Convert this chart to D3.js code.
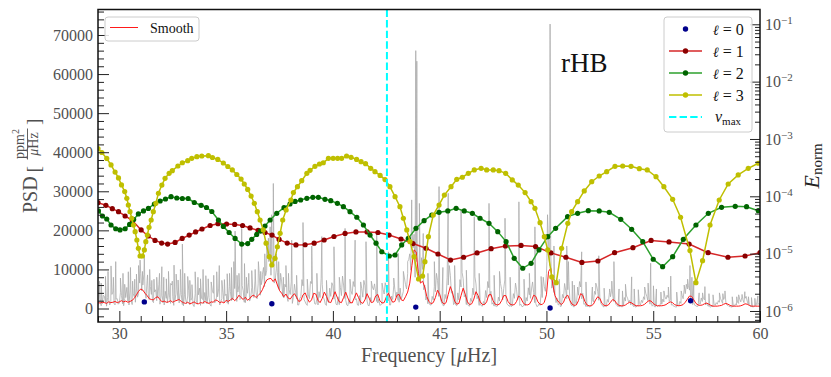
<!DOCTYPE html>
<html><head><meta charset="utf-8">
<script src="https://cdn.jsdelivr.net/npm/d3@7"></script>
<style>
body{margin:0;background:#fff;}
svg text{font-family:"Liberation Serif","Times New Roman",serif;}
</style>
</head><body>
<svg id="c" width="831" height="377"></svg>
<script>
// ---------------- DATA ----------------
const freqStart = 29.0, freqStep = 0.05;
const psdBand = [
800,1900,2600,700,1200,3400,3100,1500,600,2800,2200,900,1700,3600,4200,1300,900,2400,2500,1100,
1400,4100,3300,1200,700,2500,2800,5400,1900,900,4500,2300,1000,3800,3000,1600,5200,2900,3800,6500,
9000,4500,6000,8800,4400,2600,7200,3900,2300,5600,3600,1800,1500,4200,4800,2000,2700,6100,1100,3000,
3400,1500,900,4400,2600,1400,4000,2900,1300,6000,3000,800,2100,3700,5000,2200,1400,4100,3600,1000,
700,3500,2400,1200,3200,4600,1000,2100,2700,900,500,3800,1900,1100,3500,5200,800,2600,2300,1200,
4100,2000,1200,3400,2800,900,600,4700,3900,1500,1600,2900,3000,5000,900,1800,2500,4100,1700,3300,
3700,1400,1100,5600,4300,2000,2200,3100,5100,7000,1800,4200,6000,2300,2600,5900,4500,1600,1500,3800,
3900,6600,1900,2700,5400,3900,2800,7000,4200,2500,6300,8900,3400,6100,7800,10500,5600,8400,9800,13500,
12000,16000,8500,13000,11000,6500,7400,10200,9300,5200,4600,7900,6800,3100,2700,6200,5500,3000,1800,4800,
3600,6800,1300,2900,6200,4100,2400,900,900,2600,3000,7400,5800,2300,1700,1100,800,3500,2500,6900,
6400,3600,3000,1200,1100,2500,900,4300,2800,7700,6200,2900,2200,1000,800,1900,1500,5200,3100,6600,
5800,2400,2600,1100,900,3000,1000,5400,3300,8300,6000,2600,2100,900,700,2300,1200,4500,3600,6900,
5600,2200,2500,900,800,3300,900,5100,2900,7200,5900,2500,1900,800,700,2800,1800,5500,4800,6300,
4300,1800,1400,2400,800,1000,1200,4900,3700,6600,5400,2300,2000,900,900,3200,2300,5800,4900,3000,
4200,2100,1600,5200,2400,3300,4400,7800,6100,5000,9000,12500,14000,9800,21000,15500,19000,8000,12000,15500,
9500,7200,6800,13000,10000,4800,6000,2200,2900,1200,1500,900,900,3100,2200,5600,4300,9000,7200,3100,
4000,2100,1300,800,700,3600,2500,7900,6000,11000,8500,3900,4400,1000,1400,900,700,4000,2200,7400,
5500,9200,7600,3000,3600,1000,1200,700,600,2600,1800,5200,3500,8100,6300,2500,3200,800,1100,700,
600,1800,1000,4600,2800,6900,5300,3100,4400,1100,1500,600,700,500,600,2900,1900,6400,4900,2200,
5100,7300,2800,1200,900,600,600,500,700,3800,2600,6500,4800,2200,3700,800,1100,500,500,900,
700,2800,1900,5300,3500,2600,5000,6800,4100,1500,1300,500,600,1200,800,3900,2800,8000,5600,4400,
9000,24000,16000,11000,14500,5200,7200,4100,3300,1500,2600,900,1100,500,600,3600,2700,6400,4700,2500,
4800,7000,2000,900,700,500,400,1600,1100,4200,3400,6900,5500,2500,3900,1100,1200,500,500,700,
400,500,800,2300,1700,4400,3600,5800,4400,2100,2900,1300,900,500,400,700,500,2300,1600,4100,
3000,4700,3500,1800,2200,1100,800,500,400,600,500,400,700,2800,1900,3200,2600,1600,2100,900,
1300,700,500,400,400,800,600,1200,900,2100,1500,3000,2300,3900,3100,2000,2700,1100,1600,600,
900,500,400,700,500,800,600,1500,1100,2400,1700,3000,2400,3400,2800,1800,2200,900,1000,600,
500,400,400,900,700,1800,1300,3400,2500,4900,3800,6200,5000,5800,4700,2600,3100,1000,1500,800,
700,500,600,1500,1100,2700,1800,2600,2200,900,1400,700,600,400,400,600,500,1100,800,1500,
1100,2000,1600,2600,1900,1300,2300,2900,1600,900,800,500,500,400,400,700,600,1200,900,1600,
1300,2400,1700,2900,2200,1500,2600,3100,1900,1100,900,500,500,400,400,800,700,1400,1000,1300,
800];
// tall individual peaks of the spectrum
const spikeFreq = [29.15,29.35,29.61,29.83,30.05,30.25,30.42,30.62,30.80,30.97,
31.08,31.17,31.32,31.52,31.75,31.99,32.20,32.40,32.56,32.75,
32.95,33.20,33.40,33.55,33.80,34.05,34.30,34.56,34.80,35.05,
35.25,35.42,35.60,35.73,35.95,36.20,36.51,36.70,36.90,37.06,
37.21,37.35,37.55,37.80,38.07,38.30,38.60,38.80,39.01,39.25,
39.48,39.70,40.05,40.30,40.57,40.80,41.04,41.30,41.55,41.80,
42.05,42.30,42.60,42.85,43.06,43.30,43.50,43.69,43.88,43.93,
44.05,44.23,44.45,44.75,44.97,45.15,45.40,45.70,46.00,46.25,
46.62,46.85,47.31,47.55,47.80,48.06,48.30,48.71,48.95,49.20,
49.46,49.75,50.02,50.17,50.19,50.35,50.60,50.95,51.03,51.30,
51.65,51.85,52.15,52.45,52.70,53.16,53.40,53.70,53.99,54.30,
54.60,54.88,55.15,55.50,55.82,56.10,56.45,56.72,56.90,57.15,
57.42,57.80,58.10,58.36,58.70,59.00,59.29,59.60,59.90];
const spikePSD = [6500,8200,10900,12000,7800,6200,9400,7000,8800,12400,
9500,13100,8600,7200,8000,10700,7600,6400,11100,7300,
16500,8200,6100,9400,7600,8400,6800,9400,7200,8900,
10500,19800,9000,20500,8000,9700,12000,8800,16700,20900,
32000,14000,9000,11000,17500,8500,22000,7500,16000,9000,
18400,7200,15800,8000,20500,7500,17500,6800,17100,7000,
19200,6500,14500,7800,14100,9500,12000,27800,66000,63300,
26900,19200,9000,12000,31200,10500,29500,11000,25200,9800,
23500,9000,26900,8500,9500,23100,8000,27300,7500,9000,
20900,8200,12000,72800,38500,16000,7500,16000,12000,6000,
14500,6800,5500,13500,5200,12000,5000,6200,8100,4800,
5500,11600,5000,4500,8300,4200,6000,11000,7000,4000,
5600,3500,4000,4500,3000,3500,4300,2800,3200];
// smaller secondary peaks
const minorSpikeFreq = [29.07,29.47,29.72,30.17,30.52,30.72,30.90,31.42,31.62,31.88,32.08,32.30,32.48,32.66,32.86,33.06,33.30,33.68,33.92,34.16,34.42,34.68,34.92,35.16,35.36,35.51,35.86,36.06,36.36,36.62,36.81,36.98,37.13,37.46,37.68,37.92,
51.21,51.46,52.31,52.96,53.06,53.56,54.11,54.76,55.01,55.36,55.71,56.31,56.61,56.81,57.31,57.61,58.26,58.91,59.16,59.46,59.76];
const minorSpikePSD = [7000,9500,8000,9000,10500,7500,11000,10000,7500,9000,8000,9500,7000,8800,10000,9000,7200,8000,10000,7600,8500,11000,7400,9000,12000,8500,11500,9000,10000,9500,14000,18000,24000,12000,8000,9000,
7000,5500,6500,5000,7000,4500,5000,6500,5800,4200,5500,4500,7500,8000,4000,3800,3800,3000,3600,3000,2600];

const smoothStep = 0.1;
const smoothPSD = [
1500,1400,1600,1500,1300,1700,1500,1600,1800,1500,
1700,2000,1700,1900,1600,1800,2100,2600,3500,4400,
5000,4700,3900,3300,2500,2300,2200,2800,3000,2300,
1700,1900,1600,1700,2000,1600,1900,2100,2300,1800,
1500,1300,1600,1200,1400,1700,1300,1200,1500,1400,
1800,1500,1300,1700,1600,2200,2000,1500,1700,1400,
2100,1800,2200,2600,2000,2500,3400,2800,2300,2900,
2100,2500,3200,3400,2800,3300,3900,4800,6200,7300,
7600,7700,6900,7600,6000,4600,3900,3000,3700,2700,
2400,3200,3800,2900,1800,2000,3500,4000,2600,1600,
2200,3900,3700,2100,1500,2600,4200,3100,1700,1500,
2800,4300,2900,1700,1500,2800,4200,2700,1600,1400,
2700,4000,2800,1600,1300,2200,3800,2600,1500,1700,
3200,3600,2000,1400,1500,2900,3900,2600,1600,1800,
3400,3600,2200,2000,3000,4200,6500,11000,15000,14500,
9000,6500,7000,5500,3000,1800,1200,1500,2800,4700,
3600,1800,1100,1500,3600,5600,4000,1900,1100,1300,
3300,5200,3600,1700,1000,1200,2400,4300,3300,1700,
1000,1000,1700,3500,3600,2000,1100,900,1100,2000,
3300,3300,1800,1100,900,1000,1800,3200,2700,1500,
1000,900,1100,2000,3400,3100,1700,1100,1000,1600,
3500,9500,10300,6000,3300,2200,1500,1000,1600,3000,
3400,2000,1100,800,900,2000,3800,3400,1800,900,
700,700,1100,2200,3000,2600,1300,800,700,900,
1600,2300,2000,1200,800,700,700,900,1300,1600,
1400,1000,700,700,700,800,1100,1600,2000,1900,
1300,900,700,700,700,800,1000,1400,1700,1500,
1000,800,700,800,1000,1600,2400,3200,3100,2200,
1300,900,800,900,1200,1400,1100,800,600,600,
600,700,800,1100,1300,1100,800,600,600,600,
600,700,900,1200,1100,800,600,600,600,600,
600];

const l0Freq = [31.17,37.14,43.88,50.17,56.75];
const l0E = [1.44e-6,1.34e-6,1.17e-6,1.13e-6,1.51e-6];

const l1Freq = [29.00,29.37,29.67,29.96,30.27,30.61,31.02,31.35,31.67,31.98,32.26,32.61,32.94,33.27,33.57,33.87,34.25,34.62,35.02,35.40,35.77,36.12,36.50,36.82,37.15,37.48,37.86,38.27,38.70,39.12,39.59,40.05,40.57,41.08,41.60,42.11,42.63,43.19,43.75,44.36,44.92,45.51,46.12,46.75,47.41,48.08,48.81,49.49,50.21,50.91,51.66,52.41,53.19,54.05,54.90,55.74,56.68,57.57,58.50,59.30,60.00];
const l1E = [7.74e-5,6.97e-5,6.08e-5,5.40e-5,4.54e-5,3.78e-5,2.59e-5,2.03e-5,1.70e-5,1.53e-5,1.47e-5,1.57e-5,1.84e-5,2.11e-5,2.39e-5,2.69e-5,3.10e-5,3.33e-5,3.29e-5,3.23e-5,3.10e-5,2.81e-5,2.54e-5,2.34e-5,2.11e-5,1.77e-5,1.53e-5,1.42e-5,1.43e-5,1.52e-5,1.73e-5,1.99e-5,2.25e-5,2.39e-5,2.39e-5,2.34e-5,2.11e-5,1.80e-5,1.50e-5,1.24e-5,9.86e-6,7.74e-6,8.65e-6,1.03e-5,1.22e-5,1.36e-5,1.39e-5,1.33e-5,1.03e-5,8.65e-6,7.02e-6,7.45e-6,1.04e-5,1.27e-5,1.70e-5,1.60e-5,1.47e-5,1.04e-5,8.65e-6,9.10e-6,1.04e-5];

const l2Freq = [29.02,29.21,29.41,29.61,29.83,30.03,30.27,30.48,30.67,30.89,31.13,31.36,31.64,31.91,32.16,32.42,32.69,32.95,33.22,33.51,33.83,34.08,34.33,34.64,34.87,35.14,35.42,35.73,36.01,36.20,36.43,36.61,36.82,37.06,37.37,37.71,37.99,38.23,38.49,38.78,39.06,39.32,39.63,39.90,40.21,40.49,40.80,41.12,41.43,41.74,42.02,42.29,42.64,42.91,43.22,43.53,43.89,44.27,44.63,44.97,45.38,45.77,46.15,46.53,46.89,47.31,47.72,48.11,48.49,48.89,49.28,49.65,50.06,50.43,50.99,51.46,51.96,52.47,52.94,53.48,53.99,54.51,55.00,55.44,55.91,56.41,57.00,57.58,58.20,58.84,59.37,59.92];
const l2E = [5.55e-5,4.54e-5,4.02e-5,3.16e-5,2.72e-5,2.59e-5,2.72e-5,3.23e-5,3.94e-5,4.92e-5,5.55e-5,6.14e-5,7.35e-5,8.28e-5,8.97e-5,9.84e-5,9.35e-5,9.16e-5,9.16e-5,7.80e-5,6.97e-5,6.38e-5,5.43e-5,3.86e-5,2.98e-5,2.34e-5,1.84e-5,1.47e-5,1.50e-5,1.78e-5,2.16e-5,2.48e-5,3.03e-5,3.86e-5,5.06e-5,6.34e-5,7.35e-5,8.13e-5,8.63e-5,9.23e-5,9.62e-5,9.62e-5,8.87e-5,8.39e-5,7.55e-5,6.59e-5,5.40e-5,4.31e-5,3.16e-5,2.11e-5,1.52e-5,1.08e-5,9.10e-6,9.48e-6,1.42e-5,1.85e-5,2.77e-5,3.76e-5,4.72e-5,5.26e-5,5.55e-5,6.18e-5,5.55e-5,5.06e-5,4.14e-5,3.38e-5,2.42e-5,1.62e-5,8.30e-6,5.56e-6,6.79e-6,1.16e-5,1.98e-5,2.77e-5,4.42e-5,5.06e-5,5.61e-5,5.55e-5,5.26e-5,3.97e-5,2.66e-5,1.62e-5,7.98e-6,5.93e-6,8.85e-6,1.78e-5,3.16e-5,5.06e-5,6.43e-5,6.70e-5,6.59e-5,5.61e-5];

const l3Freq = [29.00,29.18,29.41,29.61,29.80,29.96,30.10,30.25,30.35,30.42,30.50,30.58,30.66,30.74,30.82,30.89,30.97,31.08,31.17,31.24,31.31,31.39,31.49,31.59,31.71,31.83,31.99,32.14,32.33,32.48,32.74,32.95,33.20,33.39,33.63,33.86,34.17,34.36,34.61,34.87,35.08,35.29,35.50,35.70,35.85,36.01,36.17,36.32,36.46,36.59,36.74,36.87,37.02,37.14,37.29,37.40,37.53,37.65,37.81,38.03,38.15,38.34,38.54,38.78,38.93,39.16,39.37,39.55,39.79,40.01,40.22,40.41,40.64,40.85,41.11,41.32,41.53,41.77,41.97,42.21,42.44,42.67,42.91,43.14,43.30,43.46,43.61,43.80,44.01,44.20,44.31,44.47,44.70,44.97,45.22,45.53,45.80,46.06,46.34,46.62,46.94,47.20,47.51,47.78,48.09,48.40,48.68,49.00,49.28,49.46,49.70,49.90,50.06,50.25,50.46,50.71,51.00,51.18,51.46,51.77,52.12,52.47,52.82,53.21,53.57,53.96,54.35,54.72,55.13,55.50,55.91,56.28,56.72,57.00,57.31,57.66,58.09,58.51,58.98,59.45,59.92];
const l3E = [6.82e-4,5.81e-4,4.57e-4,3.52e-4,2.65e-4,2.09e-4,1.58e-4,1.21e-4,9.23e-5,7.06e-5,5.40e-5,4.14e-5,3.16e-5,2.42e-5,1.73e-5,1.24e-5,9.10e-6,9.10e-6,1.16e-5,1.62e-5,2.11e-5,2.88e-5,3.86e-5,5.40e-5,7.55e-5,1.13e-4,1.57e-4,2.06e-4,2.52e-4,2.80e-4,3.38e-4,3.85e-4,4.18e-4,4.60e-4,4.91e-4,5.05e-4,5.11e-4,4.75e-4,4.39e-4,3.81e-4,3.31e-4,2.88e-4,2.40e-4,2.00e-4,1.64e-4,1.32e-4,1.01e-4,7.55e-5,5.40e-5,3.86e-5,2.59e-5,1.52e-5,8.85e-6,6.34e-6,8.30e-6,1.32e-5,2.26e-5,3.86e-5,5.77e-5,8.63e-5,1.16e-4,1.47e-4,1.87e-4,2.52e-4,2.84e-4,3.34e-4,3.66e-4,3.85e-4,4.60e-4,4.60e-4,4.60e-4,4.60e-4,5.05e-4,4.79e-4,4.39e-4,4.02e-4,3.71e-4,3.08e-4,2.69e-4,2.31e-4,1.96e-4,1.47e-4,9.84e-5,6.59e-5,4.14e-5,2.59e-5,1.62e-5,8.85e-6,3.61e-6,4.07e-6,7.24e-6,1.98e-5,4.72e-5,7.06e-5,1.05e-4,1.47e-4,1.98e-4,2.15e-4,2.52e-4,2.88e-4,3.08e-4,2.88e-4,2.88e-4,2.80e-4,2.52e-4,1.93e-4,1.57e-4,1.16e-4,8.05e-5,6.18e-5,3.47e-5,1.98e-5,1.16e-5,3.92e-6,3.12e-6,1.24e-5,3.38e-5,5.40e-5,8.05e-5,1.24e-4,1.80e-4,2.26e-4,2.69e-4,3.34e-4,3.38e-4,3.34e-4,3.03e-4,2.88e-4,2.20e-4,1.47e-4,8.87e-5,4.31e-5,1.13e-5,3.12e-6,7.53e-6,3.16e-5,8.63e-5,1.64e-4,2.36e-4,3.08e-4,3.77e-4];

const nuMax = 42.53;
const xTicks = [30,35,40,45,50,55,60];
const psdTicks = [0,10000,20000,30000,40000,50000,60000,70000];
const eExponents = [-6,-5,-4,-3,-2,-1];
const starLabel = "rHB";

// ---------------- LAYOUT ----------------
const m = {l:98, r:760, t:9.5, b:322};
const svg = d3.select("#c");
const x = d3.scaleLinear().domain([29,60]).range([m.l,m.r]);
const yL = d3.scaleLinear().domain([-3455,76526]).range([m.b,m.t]);
const yR = d3.scaleLog().domain([Math.pow(10,-6.192),Math.pow(10,-0.742)]).range([m.b,m.t]);

svg.append("defs").append("clipPath").attr("id","pa")
  .append("rect").attr("x",m.l).attr("y",m.t).attr("width",m.r-m.l).attr("height",m.b-m.t);
const plot = svg.append("g").attr("clip-path","url(#pa)");

// gray spectrum
const spec = psdBand.map((v,i)=>({f:freqStart+i*freqStep,p:v}))
  .concat(spikeFreq.map((f,i)=>({f:f,p:spikePSD[i]})))
  .concat(minorSpikeFreq.map((f,i)=>({f:f,p:minorSpikePSD[i]})))
  .sort((a,b)=>a.f-b.f);
plot.append("path").datum(spec)
  .attr("d",d3.line().x(d=>x(d.f)).y(d=>yL(d.p)))
  .attr("fill","none").attr("stroke","#a9a9a9").attr("stroke-width",0.9).attr("stroke-opacity",0.85);

// smooth
plot.append("path").datum(smoothPSD.map((v,i)=>({f:freqStart+i*smoothStep,p:v})))
  .attr("d",d3.line().x(d=>x(d.f)).y(d=>yL(d.p)))
  .attr("fill","none").attr("stroke","#ff1a1a").attr("stroke-width",1);

// E_norm series
const series = [
  {f:l1Freq,e:l1E,line:"#d62728",mk:"#8b0000"},
  {f:l2Freq,e:l2E,line:"#2ca02c",mk:"#006400"},
  {f:l3Freq,e:l3E,line:"#bfbf00",mk:"#bfbf00"}
];
plot.selectAll("circle.l0").data(l0Freq).enter().append("circle")
  .attr("cx",d=>x(d)).attr("cy",(d,i)=>yR(l0E[i])).attr("r",2.7).attr("fill","#00008b");
series.forEach(s=>{
  const pts = s.f.map((f,i)=>({f:f,e:s.e[i]}));
  plot.append("path").datum(pts)
    .attr("d",d3.line().x(d=>x(d.f)).y(d=>yR(d.e)))
    .attr("fill","none").attr("stroke",s.line).attr("stroke-width",1.5);
  plot.append("g").selectAll("circle").data(pts).enter().append("circle")
    .attr("cx",d=>x(d.f)).attr("cy",d=>yR(d.e)).attr("r",2.6).attr("fill",s.mk);
});
plot.append("line").attr("x1",x(nuMax)).attr("x2",x(nuMax)).attr("y1",m.t).attr("y2",m.b)
  .attr("stroke","#00ffff").attr("stroke-width",2).attr("stroke-dasharray","7.4,3.2");

// ---------------- AXES ----------------
const tickCol = "#222", labCol = "#505050";
function styleAxis(g){ g.select(".domain").remove(); g.selectAll(".tick line").attr("stroke",tickCol).attr("stroke-width",1);
  g.selectAll("text").attr("font-family","Liberation Serif, serif").attr("font-size",16).attr("fill",labCol); }

const gx = svg.append("g").attr("transform",`translate(0,${m.b})`)
  .call(d3.axisBottom(x).tickValues(xTicks).tickSize(-11).tickPadding(6).tickFormat(d3.format("d")));
styleAxis(gx);
const gxm = svg.append("g").attr("transform",`translate(0,${m.b})`)
  .call(d3.axisBottom(x).tickValues(d3.range(29,61,1).filter(v=>v%5!==0)).tickSize(-6).tickFormat(""));
styleAxis(gxm);

const gy = svg.append("g").attr("transform",`translate(${m.l},0)`)
  .call(d3.axisLeft(yL).tickValues(psdTicks).tickSize(-11).tickPadding(5).tickFormat(d3.format("d")));
styleAxis(gy);
const gym = svg.append("g").attr("transform",`translate(${m.l},0)`)
  .call(d3.axisLeft(yL).tickValues(d3.range(-2000,76001,2000).filter(v=>v%10000!==0)).tickSize(-6).tickFormat(""));
styleAxis(gym);

const gr = svg.append("g").attr("transform",`translate(${m.r},0)`)
  .call(d3.axisRight(yR).tickValues(eExponents.map(k=>Math.pow(10,k))).tickSize(-10).tickPadding(5).tickFormat(()=>"10"));
styleAxis(gr);
gr.selectAll(".tick text").each(function(d,i){
  d3.select(this).append("tspan").attr("dy","-0.55em").attr("font-size",11).text("\u2212"+Math.abs(eExponents[i]));
});
const minorE = [];
for(let k=-7;k<=-1;k++) for(let j=2;j<=9;j++){ const v=j*Math.pow(10,k); const [a,b]=yR.domain(); if(v>=a&&v<=b) minorE.push(v); }
const grm = svg.append("g").attr("transform",`translate(${m.r},0)`)
  .call(d3.axisRight(yR).tickValues(minorE).tickSize(-5).tickFormat(""));
styleAxis(grm);

svg.append("rect").attr("x",m.l).attr("y",m.t).attr("width",m.r-m.l).attr("height",m.b-m.t)
  .attr("fill","none").attr("stroke","#111").attr("stroke-width",1.5);

// axis labels
svg.append("text").attr("x",(m.l+m.r)/2).attr("y",362).attr("text-anchor","middle")
  .attr("font-size",20).attr("fill",labCol)
  .call(t=>{ t.append("tspan").text("Frequency ["); t.append("tspan").attr("font-style","italic").text("\u03bc");
             t.append("tspan").text("Hz]"); });

const yl = svg.append("g").attr("transform","translate(37,166.5) rotate(-90)").attr("fill",labCol);
yl.append("text").attr("x",-46.5).attr("y",0).attr("font-size",20).text("PSD");
yl.append("text").attr("x",-6).attr("y",2.5).attr("font-size",19).text("[");
yl.append("text").attr("x",41.5).attr("y",2.5).attr("font-size",19).text("]");
yl.append("text").attr("x",22.5).attr("y",-13).attr("text-anchor","middle").attr("font-size",14)
  .call(t=>{ t.append("tspan").text("ppm"); t.append("tspan").attr("dy","-0.5em").attr("font-size",10).text("2"); });
yl.append("line").attr("x1",7).attr("x2",38).attr("y1",-9.5).attr("y2",-9.5).attr("stroke",labCol).attr("stroke-width",0.9);
yl.append("text").attr("x",22.5).attr("y",0.5).attr("text-anchor","middle").attr("font-size",14)
  .call(t=>{ t.append("tspan").attr("font-style","italic").text("\u03bc"); t.append("tspan").text("Hz"); });

const el = svg.append("g").attr("transform","translate(819,166) rotate(-90)");
el.append("text").attr("text-anchor","middle").attr("font-size",22).attr("fill","#222")
  .call(t=>{ t.append("tspan").attr("font-style","italic").text("E");
             t.append("tspan").attr("font-size",15).attr("dy",3).text("norm"); });

svg.append("text").attr("x",561).attr("y",72).attr("font-size",27).attr("fill","#111").text(starLabel);

// ---------------- LEGENDS ----------------
const lg1 = svg.append("g");
lg1.append("rect").attr("x",105).attr("y",17).attr("width",94).attr("height",24).attr("rx",3)
  .attr("fill","#fff").attr("fill-opacity",0.85).attr("stroke","#cccccc");
lg1.append("line").attr("x1",110).attr("x2",138).attr("y1",27.5).attr("y2",27.5).attr("stroke","#ff1a1a").attr("stroke-width",1);
lg1.append("text").attr("x",150).attr("y",32.5).attr("font-size",14).attr("fill","#111").text("Smooth");

const lg2 = svg.append("g");
lg2.append("rect").attr("x",664).attr("y",17).attr("width",88).attr("height",115).attr("rx",3)
  .attr("fill","#fff").attr("fill-opacity",0.85).attr("stroke","#cccccc");
const legItems = [
  {lab:"0",line:null,mk:"#00008b"},
  {lab:"1",line:"#d62728",mk:"#8b0000"},
  {lab:"2",line:"#2ca02c",mk:"#006400"},
  {lab:"3",line:"#bfbf00",mk:"#bfbf00"}
];
legItems.forEach((it,i)=>{
  const yy = 29+i*22;
  if(it.line) lg2.append("line").attr("x1",669).attr("x2",702).attr("y1",yy).attr("y2",yy).attr("stroke",it.line).attr("stroke-width",1.5);
  lg2.append("circle").attr("cx",685.5).attr("cy",yy).attr("r",2.7).attr("fill",it.mk);
  lg2.append("text").attr("x",713).attr("y",yy+5.5).attr("font-size",16).attr("fill","#111")
    .call(t=>{ t.append("tspan").attr("font-style","italic").attr("font-family","DejaVu Serif, serif").attr("font-size",14).text("\u2113");
               t.append("tspan").text(" = "+it.lab); });
});
lg2.append("line").attr("x1",669).attr("x2",702).attr("y1",117).attr("y2",117)
  .attr("stroke","#00ffff").attr("stroke-width",2).attr("stroke-dasharray","7.4,3.2");
lg2.append("text").attr("x",715).attr("y",122).attr("font-size",16).attr("fill","#111")
  .call(t=>{ t.append("tspan").attr("font-style","italic").text("\u03bd");
             t.append("tspan").attr("font-size",11).attr("dy",3).text("max"); });
</script>
</body></html>
